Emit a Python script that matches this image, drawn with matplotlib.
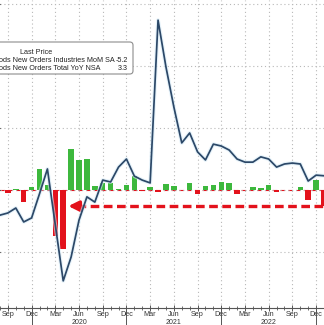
import matplotlib.pyplot as plt
from matplotlib.patches import FancyBboxPatch
import numpy as np
import pandas as pd

plt.rcParams['font.family'] = ['Liberation Sans', 'DejaVu Sans']

# monthly data, Aug 2019 .. Jan 2023 (line) / Sep 2019 .. Jan 2023 (bars)
line_months = pd.period_range('2019-08', '2023-01', freq='M')
yoy_nsa = [-9.4, -8.7, -7.1, -11.6, -10.3, -2.5, 5.5, -12.6, -30.6, -22.9,
           -11.0, -3.5, -5.2, 1.9, 1.3, 6.1, 8.7, 3.2, 1.9, 1.0,
           53.5, 38.4, 25.5, 13.9, 17.1, 11.0, 8.4, 13.5, 12.9, 11.6,
           8.7, 7.7, 7.7, 9.4, 8.7, 6.1, 7.1, 7.4, 7.1, 1.6,
           3.5, 3.3]

bar_months = pd.period_range('2019-09', '2023-01', freq='M')
mom_sa = [-1.1, 0.2, -3.8, 1.0, 6.8, 1.6, -14.8, -19.0, 13.2, 9.7,
          10.0, 1.3, 2.2, 2.2, 0.3, 1.6, 4.5, -0.3, 0.9, -0.6,
          2.0, 1.4, -0.1, 2.3, -1.3, 1.3, 1.5, 2.5, 2.2, -1.3,
          0.1, 1.0, 0.8, 1.6, -0.7, 0.1, 0.1, 1.1, -3.2, 3.2,
          -5.2]

legend_rows = ['ods New Orders Industries MoM SA', 'ods New Orders Total YoY NSA']

NAVY = '#2c4868'
GREEN = '#3db83d'
RED = '#e3121c'
GRID = '#b8b8b8'
TXT = '#333333'
FS = 5.2

origin = pd.Period('2019-09', freq='M')
xl = np.array([(m - origin).n for m in line_months])
xb = np.array([(m - origin).n for m in bar_months])

W, H = 324, 325
fig = plt.figure(figsize=(W / 100, H / 100), dpi=100)
fig.patch.set_facecolor('white')
ax = fig.add_axes([0, 17 / H, 1, 308 / H])
ax.set_facecolor('white')

px_per_month = 8.08
x_left = -7 / px_per_month
x_right = (W - 7) / px_per_month
ax.set_xlim(x_left, x_right)
ax.set_ylim(-118 / 3.1, 190 / 3.1)

# bars (MoM)
bar_colors = [GREEN if v >= 0 else RED for v in mom_sa]
ax.bar(xb, mom_sa, width=0.7, color=bar_colors, zorder=2)
ax.axhline(0, color=RED, lw=0.8, ls=(0, (4, 3)), zorder=1.5)

# last value marker on the bar scale
last = mom_sa[-1]
ax.plot([8.8, x_right + 1], [last, last], color=RED, lw=2.4,
        ls=(0, (2.6, 1.35)), solid_capstyle='butt', zorder=4, clip_on=True)
ax.annotate('', xy=(7.65, last), xytext=(8.9, last),
            arrowprops=dict(arrowstyle='-|>,head_length=0.6,head_width=0.3',
                            color=RED, lw=2.4, shrinkA=0, shrinkB=0), zorder=4)

# grid
ax.set_yticks([60, 40, 20, 0, -20])
ax.tick_params(axis='y', left=False, labelleft=False)
ax.grid(True, which='major', color=GRID, lw=0.8, ls=(0, (1, 2.5)), zorder=0)

quarters = [k for k, m in zip(xl, line_months) if m.month in (3, 6, 9, 12)]
quarter_labels = [m.strftime('%b') for m in line_months if m.month in (3, 6, 9, 12)]
ax.set_xticks(quarters)
ax.set_xticklabels(quarter_labels, fontsize=FS, color=TXT)
ax.set_xticks(xl, minor=True)
ax.tick_params(axis='x', which='major', direction='inout', length=4, width=0.7,
               color='#555555', pad=0)
ax.tick_params(axis='x', which='minor', direction='inout', length=2.5, width=0.6,
               color='#555555')
for s in ['left', 'right', 'top']:
    ax.spines[s].set_visible(False)
ax.spines['bottom'].set_color('#555555')
ax.spines['bottom'].set_linewidth(0.8)

# line (YoY) on its own scale
ax2 = ax.twinx()
ax2.set_ylim(-122 / 3.1, 186 / 3.1)
ax2.set_axis_off()
ax2.plot(xl, yoy_nsa, color='#d6ebf7', lw=2.8, alpha=0.6, zorder=2)
ax2.plot(xl, yoy_nsa, color=NAVY, lw=1.25, zorder=3)

# year separators and labels
for m, k in zip(line_months, xl):
    if m.month == 12:
        ax.plot([k, k], [0, -17 / 308], color='#555555', lw=0.7,
                transform=ax.get_xaxis_transform(), clip_on=False)
    if m.month == 6:
        ax.text(k, -15 / 308, str(m.year), transform=ax.get_xaxis_transform(),
                ha='center', va='center', fontsize=5, color=TXT)

# legend box
box = FancyBboxPatch((-0.05, 1 - 74 / H), 133 / W + 0.05, 32 / H,
                     boxstyle='round,pad=0,rounding_size=0.01',
                     transform=fig.transFigure, facecolor='white',
                     edgecolor='#8c8c8c', lw=0.8, zorder=10)
fig.patches.append(box)
fig.text(36 / W, 1 - 52 / H, 'Last Price', ha='center', va='center',
         fontsize=FS, color='#222222', zorder=11)
values = [mom_sa[-1], yoy_nsa[-1]]
for i, (name, v) in enumerate(zip(legend_rows, values)):
    y = 1 - (61 + 8 * i) / H
    fig.text(-1 / W, y, name, ha='left', va='center', fontsize=FS,
             color='#222222', zorder=11)
    fig.text(128 / W, y, f'{v:.1f}', ha='right', va='center', fontsize=FS,
             color='#222222', zorder=11)

fig.savefig('out.png', dpi=100, facecolor='white')
